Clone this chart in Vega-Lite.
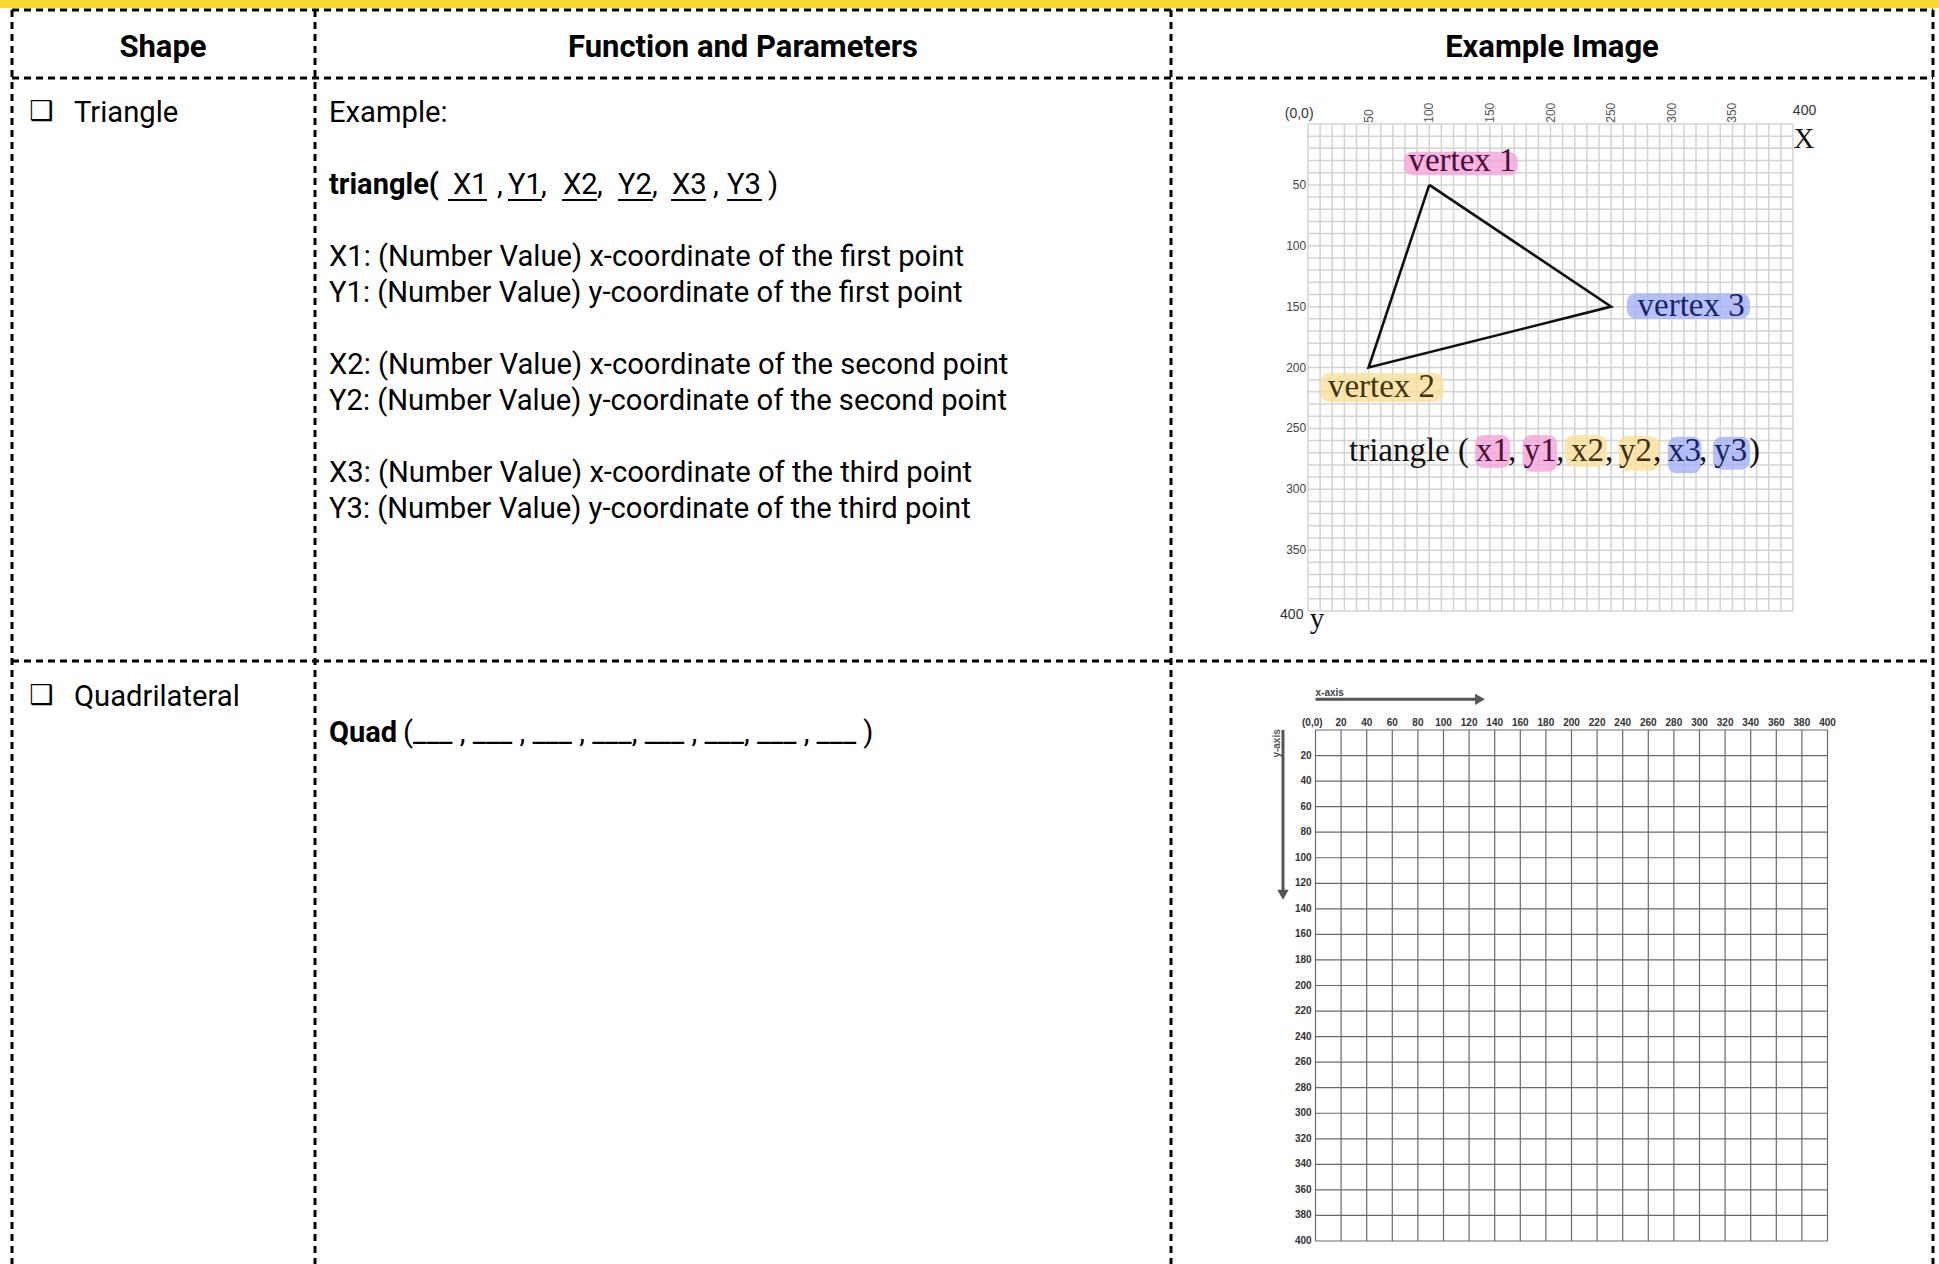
{
"$schema":"https://vega.github.io/schema/vega-lite/v6.json",
"width":1939,"height":1264,"autosize":{"type":"none"},"padding":0,"background":"white",
"config":{"view":{"stroke":null}},
"datasets":{
"yellow":[{"x":0,"x2":1939,"y":0,"y2":8}],
"borders":[
{"x":12,"x2":1933,"y":10,"y2":10},{"x":12,"x2":1933,"y":78,"y2":78},{"x":12,"x2":1933,"y":661,"y2":661},
{"x":12,"x2":12,"y":10,"y2":1264},{"x":315,"x2":315,"y":10,"y2":1264},{"x":1171,"x2":1171,"y":10,"y2":1264},{"x":1933,"x2":1933,"y":10,"y2":1264}],
"header":[{"t":"Shape","x":163,"y":57},{"t":"Function and Parameters","x":743,"y":57},{"t":"Example Image","x":1552,"y":57}],
"body":[
{"t":"Triangle","x":74,"y":122},
{"t":"Example:","x":329,"y":122},
{"t":"X1: (Number Value) x-coordinate of the first point","x":329,"y":266},
{"t":"Y1: (Number Value) y-coordinate of the first point","x":329,"y":302},
{"t":"X2: (Number Value) x-coordinate of the second point","x":329,"y":374},
{"t":"Y2: (Number Value) y-coordinate of the second point","x":329,"y":410},
{"t":"X3: (Number Value) x-coordinate of the third point","x":329,"y":482},
{"t":"Y3: (Number Value) y-coordinate of the third point","x":329,"y":518},
{"t":"Quadrilateral","x":74,"y":706},
{"t":"X1","x":453,"y":194},{"t":",","x":497,"y":194},{"t":"Y1","x":508,"y":194},{"t":",","x":541,"y":194},
{"t":"X2","x":563,"y":194},{"t":",","x":597,"y":194},{"t":"Y2","x":618,"y":194},{"t":",","x":652,"y":194},
{"t":"X3","x":672,"y":194},{"t":",","x":713,"y":194},{"t":"Y3","x":727,"y":194},{"t":")","x":768,"y":194},
{"t":"(___ , ___ , ___ , ___, ___ , ___, ___ , ___ )","x":403,"y":742}],
"bold":[{"t":"triangle(","x":329,"y":194},{"t":"Quad","x":329,"y":742}],
"under":[{"x":448,"x2":487,"y":200},{"x":508,"x2":542,"y":200},{"x":562,"x2":597,"y":200},{"x":618,"x2":653,"y":200},{"x":671,"x2":706,"y":200},{"x":727,"x2":762,"y":200}],
"checks":[{"t":"❑","x":29,"y":120},{"t":"❑","x":29,"y":704}],
"g1":[{"v":0},{"v":10},{"v":20},{"v":30},{"v":40},{"v":50},{"v":60},{"v":70},{"v":80},{"v":90},{"v":100},{"v":110},{"v":120},{"v":130},{"v":140},{"v":150},{"v":160},{"v":170},{"v":180},{"v":190},{"v":200},{"v":210},{"v":220},{"v":230},{"v":240},{"v":250},{"v":260},{"v":270},{"v":280},{"v":290},{"v":300},{"v":310},{"v":320},{"v":330},{"v":340},{"v":350},{"v":360},{"v":370},{"v":380},{"v":390},{"v":400}],
"g1lab":[{"v":50},{"v":100},{"v":150},{"v":200},{"v":250},{"v":300},{"v":350}],
"g1misc":[{"t":"(0,0)","x":-7.3,"y":-5},{"t":"400","x":409.5,"y":-7.4},{"t":"400","x":-13.4,"y":406.6}],
"g1big":[{"t":"X","x":409,"y":19.7},{"t":"y","x":7.4,"y":414}],
"tri":[{"x":100,"y":50,"o":0},{"x":50,"y":200,"o":1},{"x":250,"y":150,"o":2},{"x":100,"y":50,"o":3}],
"hl":[
{"x":79,"x2":173,"y":22.8,"y2":42,"c":"pink"},
{"x":263,"x2":364.5,"y":139,"y2":160,"c":"blue"},
{"x":10.3,"x2":111.7,"y":204.5,"y2":228.3,"c":"yellow"},
{"x":137.7,"x2":166.6,"y":255.4,"y2":282.6,"c":"pink"},
{"x":177,"x2":205.4,"y":255.4,"y2":285.6,"c":"pink"},
{"x":211.7,"x2":246.4,"y":255.4,"y2":281.5,"c":"yellow"},
{"x":256.2,"x2":289.8,"y":256,"y2":284.8,"c":"yellow"},
{"x":296.7,"x2":324.5,"y":256.8,"y2":286.8,"c":"blue"},
{"x":334,"x2":364.5,"y":256.8,"y2":284,"c":"blue"}],
"vlab":[{"t":"vertex 1","x":127,"y":39,"c":"pink"},{"t":"vertex 3","x":316,"y":157.7,"c":"blue"},{"t":"vertex 2","x":60.6,"y":224,"c":"yellow"}],
"tok":[
{"t":"triangle (","x":33.8,"y":277,"c":"black"},{"t":"x1","x":138.6,"y":277,"c":"pink"},{"t":",","x":165,"y":277,"c":"black"},
{"t":"y1","x":178,"y":277,"c":"pink"},{"t":",","x":204.5,"y":277,"c":"black"},{"t":"x2","x":217,"y":277,"c":"yellow"},
{"t":",","x":245,"y":277,"c":"black"},{"t":"y2","x":256.5,"y":277,"c":"yellow"},{"t":",","x":284.5,"y":277,"c":"black"},
{"t":"x3","x":297,"y":277,"c":"blue"},{"t":",","x":322.5,"y":277,"c":"black"},{"t":"y3","x":335,"y":277,"c":"blue"},{"t":")","x":363.7,"y":277,"c":"black"}],
"g2":[{"v":0},{"v":20},{"v":40},{"v":60},{"v":80},{"v":100},{"v":120},{"v":140},{"v":160},{"v":180},{"v":200},{"v":220},{"v":240},{"v":260},{"v":280},{"v":300},{"v":320},{"v":340},{"v":360},{"v":380},{"v":400}],
"g2lab":[{"v":20},{"v":40},{"v":60},{"v":80},{"v":100},{"v":120},{"v":140},{"v":160},{"v":180},{"v":200},{"v":220},{"v":240},{"v":260},{"v":280},{"v":300},{"v":320},{"v":340},{"v":360},{"v":380},{"v":400}],
"g2origin":[{"t":"(0,0)","x":-2.5,"y":-3.1}],
"g2misc":[{"t":"x-axis","x":0,"y":-26.6}],
"arrows":[{"x":0,"x2":126,"y":-24,"y2":-24},{"x":-25.4,"x2":-25.4,"y":0,"y2":126}],
"heads":[{"x":128.5,"y":-24,"d":"right"},{"x":-25.4,"y":129,"d":"down"}],
"yax":[{"t":"y-axis","x":-30,"y":10.5}]
},
"layer":[
{"layer":[
 {"data":{"name":"yellow"},"mark":{"type":"rect","color":"#f8d633"},
  "encoding":{"x":{"field":"x","type":"quantitative","scale":{"domain":[0,1939],"range":[0,1939],"nice":false,"zero":false},"axis":null},"x2":{"field":"x2"},
   "y":{"field":"y","type":"quantitative","scale":{"domain":[0,1264],"range":[0,1264],"nice":false,"zero":false},"axis":null},"y2":{"field":"y2"}}},
 {"data":{"name":"borders"},"mark":{"type":"rule","color":"#000000","strokeWidth":3,"strokeDash":[7,5]},
  "encoding":{"x":{"field":"x","type":"quantitative","axis":null},"x2":{"field":"x2"},"y":{"field":"y","type":"quantitative","axis":null},"y2":{"field":"y2"}}},
 {"data":{"name":"header"},"mark":{"type":"text","font":"Roboto","fontWeight":"bold","fontSize":31,"align":"center","baseline":"alphabetic","color":"#000000"},
  "encoding":{"x":{"field":"x","type":"quantitative","axis":null},"y":{"field":"y","type":"quantitative","axis":null},"text":{"field":"t"}}},
 {"data":{"name":"body"},"mark":{"type":"text","font":"Roboto","fontSize":29.2,"align":"left","baseline":"alphabetic","color":"#000000"},
  "encoding":{"x":{"field":"x","type":"quantitative","axis":null},"y":{"field":"y","type":"quantitative","axis":null},"text":{"field":"t"}}},
 {"data":{"name":"bold"},"mark":{"type":"text","font":"Roboto","fontWeight":"bold","fontSize":29,"align":"left","baseline":"alphabetic","color":"#000000"},
  "encoding":{"x":{"field":"x","type":"quantitative","axis":null},"y":{"field":"y","type":"quantitative","axis":null},"text":{"field":"t"}}},
 {"data":{"name":"under"},"mark":{"type":"rule","color":"#000000","strokeWidth":2},
  "encoding":{"x":{"field":"x","type":"quantitative","axis":null},"x2":{"field":"x2"},"y":{"field":"y","type":"quantitative","axis":null}}},
 {"data":{"name":"checks"},"mark":{"type":"text","font":"DejaVu Sans","fontSize":27,"align":"left","baseline":"alphabetic","color":"#000000"},
  "encoding":{"x":{"field":"x","type":"quantitative","axis":null},"y":{"field":"y","type":"quantitative","axis":null},"text":{"field":"t"}}}
]},
{"layer":[
 {"data":{"name":"g1"},"mark":{"type":"rule","color":"#d3d3d3","strokeWidth":1.5},
  "encoding":{"x":{"field":"v","type":"quantitative","scale":{"domain":[0,400],"range":[1308,1793],"nice":false,"zero":false},"axis":null},
   "y":{"datum":0,"type":"quantitative","scale":{"domain":[0,400],"range":[124,611],"nice":false,"zero":false},"axis":null},"y2":{"datum":400}}},
 {"data":{"name":"g1"},"mark":{"type":"rule","color":"#d3d3d3","strokeWidth":1.5},
  "encoding":{"y":{"field":"v","type":"quantitative","axis":null},"x":{"datum":0,"type":"quantitative","axis":null},"x2":{"datum":400}}},
 {"data":{"name":"hl"},"mark":{"type":"rect","opacity":0.8,"cornerRadius":9},
  "encoding":{"x":{"field":"x","type":"quantitative","axis":null},"x2":{"field":"x2"},"y":{"field":"y","type":"quantitative","axis":null},"y2":{"field":"y2"},
   "color":{"field":"c","type":"nominal","scale":{"domain":["pink","yellow","blue"],"range":["#f5a3d9","#fbe09a","#a3b2f6"]},"legend":null}}},
 {"data":{"name":"tri"},"mark":{"type":"line","color":"#111111","strokeWidth":2.6,"strokeJoin":"miter"},
  "encoding":{"x":{"field":"x","type":"quantitative","axis":null},"y":{"field":"y","type":"quantitative","axis":null},"order":{"field":"o","type":"quantitative"}}},
 {"data":{"name":"g1lab"},"mark":{"type":"text","font":"Liberation Sans","fontSize":12,"angle":270,"align":"left","baseline":"middle","color":"#555555"},
  "encoding":{"x":{"field":"v","type":"quantitative","axis":null},"y":{"datum":-1,"type":"quantitative","axis":null},"text":{"field":"v","type":"quantitative"}}},
 {"data":{"name":"g1lab"},"mark":{"type":"text","font":"Liberation Sans","fontSize":12,"align":"right","baseline":"middle","color":"#444444"},
  "encoding":{"y":{"field":"v","type":"quantitative","axis":null},"x":{"datum":-1.5,"type":"quantitative","axis":null},"text":{"field":"v","type":"quantitative"}}},
 {"data":{"name":"g1misc"},"mark":{"type":"text","font":"Liberation Sans","fontSize":14,"align":"center","baseline":"alphabetic","color":"#333333"},
  "encoding":{"x":{"field":"x","type":"quantitative","axis":null},"y":{"field":"y","type":"quantitative","axis":null},"text":{"field":"t"}}},
 {"data":{"name":"g1big"},"mark":{"type":"text","font":"Liberation Serif","fontSize":29,"align":"center","baseline":"alphabetic","color":"#111111"},
  "encoding":{"x":{"field":"x","type":"quantitative","axis":null},"y":{"field":"y","type":"quantitative","axis":null},"text":{"field":"t"}}},
 {"data":{"name":"vlab"},"mark":{"type":"text","font":"Liberation Serif","fontSize":33,"align":"center","baseline":"alphabetic"},
  "encoding":{"x":{"field":"x","type":"quantitative","axis":null},"y":{"field":"y","type":"quantitative","axis":null},"text":{"field":"t"},
   "fill":{"field":"c","type":"nominal","scale":{"domain":["black","pink","yellow","blue"],"range":["#111111","#4a1038","#3f3210","#16236a"]},"legend":null}}},
 {"data":{"name":"tok"},"mark":{"type":"text","font":"Liberation Serif","fontSize":33,"align":"left","baseline":"alphabetic"},
  "encoding":{"x":{"field":"x","type":"quantitative","axis":null},"y":{"field":"y","type":"quantitative","axis":null},"text":{"field":"t"},
   "fill":{"field":"c","type":"nominal","legend":null}}}
]},
{"layer":[
 {"data":{"name":"g2"},"mark":{"type":"rule","color":"#6a6a6a","strokeWidth":1.2},
  "encoding":{"x":{"field":"v","type":"quantitative","scale":{"domain":[0,400],"range":[1315.5,1827.5],"nice":false,"zero":false},"axis":null},
   "y":{"datum":0,"type":"quantitative","scale":{"domain":[0,400],"range":[730,1241],"nice":false,"zero":false},"axis":null},"y2":{"datum":400}}},
 {"data":{"name":"g2"},"mark":{"type":"rule","color":"#6a6a6a","strokeWidth":1.2},
  "encoding":{"y":{"field":"v","type":"quantitative","axis":null},"x":{"datum":0,"type":"quantitative","axis":null},"x2":{"datum":400}}},
 {"data":{"name":"g2lab"},"mark":{"type":"text","font":"Liberation Sans","fontWeight":"bold","fontSize":10,"align":"center","baseline":"alphabetic","color":"#333333"},
  "encoding":{"x":{"field":"v","type":"quantitative","axis":null},"y":{"datum":-3.1,"type":"quantitative","axis":null},"text":{"field":"v","type":"quantitative"}}},
 {"data":{"name":"g2lab"},"mark":{"type":"text","font":"Liberation Sans","fontWeight":"bold","fontSize":10,"align":"right","baseline":"middle","color":"#333333"},
  "encoding":{"y":{"field":"v","type":"quantitative","axis":null},"x":{"datum":-3,"type":"quantitative","axis":null},"text":{"field":"v","type":"quantitative"}}},
 {"data":{"name":"g2origin"},"mark":{"type":"text","font":"Liberation Sans","fontWeight":"bold","fontSize":10,"align":"center","baseline":"alphabetic","color":"#333333"},
  "encoding":{"x":{"field":"x","type":"quantitative","axis":null},"y":{"field":"y","type":"quantitative","axis":null},"text":{"field":"t"}}},
 {"data":{"name":"g2misc"},"mark":{"type":"text","font":"Liberation Sans","fontWeight":"bold","fontSize":10,"align":"left","baseline":"alphabetic","color":"#444444"},
  "encoding":{"x":{"field":"x","type":"quantitative","axis":null},"y":{"field":"y","type":"quantitative","axis":null},"text":{"field":"t"}}},
 {"data":{"name":"yax"},"mark":{"type":"text","font":"Liberation Sans","fontWeight":"bold","fontSize":10,"angle":270,"align":"center","baseline":"middle","color":"#555555"},
  "encoding":{"x":{"field":"x","type":"quantitative","axis":null},"y":{"field":"y","type":"quantitative","axis":null},"text":{"field":"t"}}},
 {"data":{"name":"arrows"},"mark":{"type":"rule","color":"#555555","strokeWidth":3},
  "encoding":{"x":{"field":"x","type":"quantitative","axis":null},"x2":{"field":"x2"},"y":{"field":"y","type":"quantitative","axis":null},"y2":{"field":"y2"}}},
 {"data":{"name":"heads"},"mark":{"type":"point","filled":true,"color":"#555555","size":130,"opacity":1},
  "encoding":{"x":{"field":"x","type":"quantitative","axis":null},"y":{"field":"y","type":"quantitative","axis":null},
   "shape":{"field":"d","type":"nominal","scale":{"domain":["right","down"],"range":["triangle-right","triangle-down"]},"legend":null}}}
]}
],
"resolve":{"scale":{"x":"independent","y":"independent"}}
}
